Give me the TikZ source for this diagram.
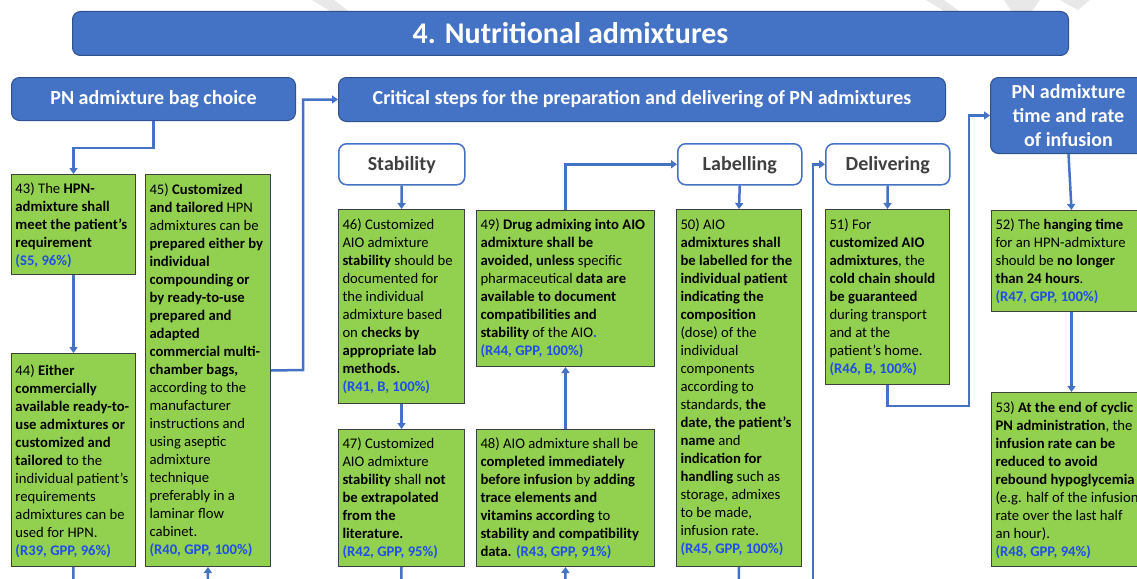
\documentclass[tikz,border=0pt]{standalone}
\usepackage{fontspec}
\setmainfont{Carlito}
\usetikzlibrary{arrows.meta}
\definecolor{hblue}{HTML}{4472C4}
\definecolor{hborder}{HTML}{2F528F}
\definecolor{gfill}{HTML}{92D050}
\definecolor{refblue}{HTML}{1F4FE8}
\definecolor{subtxt}{HTML}{404040}
\definecolor{wmark}{HTML}{E8E8E8}
\newcommand{\rf}[1]{\textcolor{refblue}{\textbf{#1}}}
\newcommand{\gtxt}[4]{\parbox[c][#2pt][t]{#1pt}{\vspace*{#3pt}\fontsize{14.67}{18}\selectfont\begin{tabular}[t]{@{}l@{}}#4\end{tabular}}}
\tikzset{
  hbox/.style={fill=hblue, draw=hborder, line width=1pt, rounded corners=8pt, text=white,
    font=\bfseries\fontsize{20}{24}\selectfont, inner sep=0pt, anchor=north west, align=center},
  sbox/.style={fill=white, draw=hblue, line width=1.5pt, rounded corners=8pt, text=subtxt,
    font=\bfseries\fontsize{20}{24}\selectfont, inner sep=0pt, anchor=north west, text depth=1pt},
  gbox/.style={fill=gfill, draw=black!75, line width=1pt, inner sep=4pt, anchor=north west},
  conn/.style={draw=hblue, line width=2.5pt, -{Triangle[length=6pt,width=8pt]}},
  line/.style={draw=hblue, line width=2.5pt}
}
\begin{document}
\begin{tikzpicture}[x=1pt,y=-1pt]
\useasboundingbox (0,0) rectangle (1137,578);
\clip (0,0) rectangle (1137,578);
% faint watermark fragments at the top edge
\fill[wmark] (312,0) -- (334,0) -- (356,17) -- (346,21) -- cycle;
\fill[wmark] (926,0) -- (944,0) -- (962,13) -- (952,16) -- cycle;
\fill[wmark] (1004,0) -- (1040,0) -- (1030,14) -- (1012,12) -- cycle;
\fill[wmark] (1060,0) -- (1090,0) -- (1078,10) -- cycle;
% headers
\node[hbox, minimum width=996pt, minimum height=44pt, font=\bfseries\fontsize{30}{36}\selectfont] (title) at (72,11) {4. Nutritional admixtures};
\node[hbox, minimum width=284pt, minimum height=43pt] (bag) at (11,77) {PN admixture bag choice};
\node[hbox, minimum width=607pt, minimum height=44pt] (crit) at (338,77) {Critical steps for the preparation and delivering of PN admixtures};
\node[hbox, minimum width=156pt, minimum height=76pt] (time) at (990,77) {PN admixture\\time and rate\\of infusion};
% sub headers
\node[sbox, minimum width=126pt, minimum height=41pt] (stab) at (338,143) {Stability};
\node[sbox, minimum width=124pt, minimum height=41pt] (lab) at (677,143) {Labelling};
\node[sbox, minimum width=124pt, minimum height=41pt] (deliv) at (825,143) {Delivering};
% green boxes
\node[gbox] (n43) at (11,174) {\gtxt{116}{92}{2.5}{43) The \textbf{HPN-}\\\textbf{admixture shall}\\\textbf{meet the patient’s}\\\textbf{requirement}\\\rf{(S5, 96\%)}}};
\node[gbox] (n45) at (145,174) {\gtxt{117}{384}{3}{45) \textbf{Customized}\\\textbf{and tailored} HPN\\admixtures can be\\\textbf{prepared either by}\\\textbf{individual}\\\textbf{compounding or}\\\textbf{by ready-to-use}\\\textbf{prepared and}\\\textbf{adapted}\\\textbf{commercial multi-}\\\textbf{chamber bags,}\\according to the\\manufacturer\\instructions and\\using aseptic\\admixture\\technique\\preferably in a\\laminar flow\\cabinet.\\\rf{(R40, GPP, 100\%)}}};
\node[gbox] (n44) at (11,353) {\gtxt{116}{205}{5}{44) \textbf{Either}\\\textbf{commercially}\\\textbf{available ready-to-}\\\textbf{use admixtures or}\\\textbf{customized and}\\\textbf{tailored} to the\\individual patient’s\\requirements\\admixtures can be\\used for HPN.\\\rf{(R39, GPP, 96\%)}}};
\node[gbox] (n46) at (338,209) {\gtxt{118}{186}{3}{46) Customized\\AIO admixture\\\textbf{stability} should be\\documented for\\the individual\\admixture based\\on \textbf{checks by}\\\textbf{appropriate lab}\\\textbf{methods.}\\\rf{(R41, B, 100\%)}}};
\node[gbox] (n47) at (338,429) {\gtxt{118}{129}{2.5}{47) Customized\\AIO admixture\\\textbf{stability} shall \textbf{not}\\\textbf{be extrapolated}\\\textbf{from the}\\\textbf{literature.}\\\rf{(R42, GPP, 95\%)}}};
\node[gbox] (n49) at (476,210) {\gtxt{170}{148}{2.5}{49) \textbf{Drug admixing into AIO}\\\textbf{admixture shall be}\\\textbf{avoided, unless} specific\\pharmaceutical \textbf{data are}\\\textbf{available to document}\\\textbf{compatibilities and}\\\textbf{stability} of the AIO\rf{.}\\\rf{(R44, GPP, 100\%)}}};
\node[gbox] (n48) at (476,429) {\gtxt{170}{129}{2.5}{48) AIO admixture shall be\\\textbf{completed immediately}\\\textbf{before infusion} by \textbf{adding}\\\textbf{trace elements and}\\\textbf{vitamins according} to\\\textbf{stability and compatibility}\\\textbf{data.} \rf{(R43, GPP, 91\%)}}};
\node[gbox] (n50) at (676,209) {\gtxt{117}{349}{3.5}{50) AIO\\\textbf{admixtures shall}\\\textbf{be labelled for the}\\\textbf{individual patient}\\\textbf{indicating the}\\\textbf{composition}\\(dose) of the\\individual\\components\\according to\\standards, \textbf{the}\\\textbf{date, the patient’s}\\\textbf{name} and\\\textbf{indication for}\\\textbf{handling} such as\\storage, admixes\\to be made,\\infusion rate.\\\rf{(R45, GPP, 100\%)}}};
\node[gbox] (n51) at (825,209) {\gtxt{116}{167}{3}{51) For\\\textbf{customized AIO}\\\textbf{admixtures}, the\\\textbf{cold chain should}\\\textbf{be guaranteed}\\during transport\\and at the\\patient’s home.\\\rf{(R46, B, 100\%)}}};
\node[gbox] (n52) at (991,210) {\gtxt{152}{93}{2.5}{52) The \textbf{hanging time}\\for an HPN-admixture\\should be \textbf{no longer}\\\textbf{than 24 hours}.\\\rf{(R47, GPP, 100\%)}}};
\node[gbox] (n53) at (991,392) {\gtxt{152}{166}{3}{53) \textbf{At the end of cyclic}\\\textbf{PN administration}, the\\\textbf{infusion rate can be}\\\textbf{reduced to avoid}\\\textbf{rebound hypoglycemia}\\(e.g. half of the infusion\\rate over the last half\\an hour).\\\rf{(R48, GPP, 94\%)}}};
% free ends
\coordinate (c44) at (73,595);
\coordinate (c45) at (207.5,595);
\coordinate (c47) at (401,595);
\coordinate (c48) at (565,595);
\coordinate (c50) at (738.5,595);
\coordinate (c51) at (813,595);
\coordinate (k45) at (303,370);
\coordinate (k51) at (969,406);
% connectors
\draw[conn] (bag.south) -- ++(0,27) -| (n43.north);
\draw[conn] (n43.south) -- (n44.north);
\draw[line] (n44.south) -- (c44);
\draw[conn] (c45) -- (n45.south);
\draw[conn] (n45.east) -- (k45) |- (crit.west);
\draw[conn] (stab.south) -- (n46.north);
\draw[conn] (n46.south) -- (n47.north);
\draw[line] (n47.south) -- (c47);
\draw[conn] (c48) -- (n48.south);
\draw[conn] (n48.north) -- (n49.south);
\draw[conn] (n49.north) |- (lab.west);
\draw[conn] (lab.south) -- (n50.north);
\draw[line] (n50.south) -- (c50);
\draw[conn] (c51) |- (deliv.west);
\draw[conn] (deliv.south) -- (n51.north);
\draw[conn] (n51.south) |- (k51) |- (time.west);
\draw[conn] (time.south) -- (n52.north);
\draw[conn] (n52.south) -- (n53.north);
\end{tikzpicture}
\end{document}
